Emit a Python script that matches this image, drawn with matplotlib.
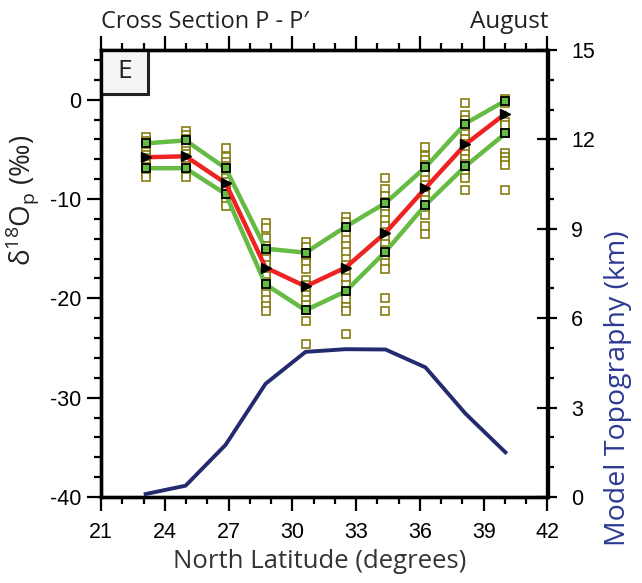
import matplotlib
matplotlib.use("Agg")
import matplotlib.pyplot as plt
from matplotlib.ticker import MultipleLocator
from matplotlib.patches import Rectangle

plt.rcParams["axes.unicode_minus"] = False

# ---------------- data ----------------
lat = [23.1, 24.98, 26.86, 28.74, 30.62, 32.5, 34.38, 36.26, 38.14, 40.02]

d18o_mean = [-5.8, -5.7, -8.4, -16.9, -18.8, -16.9, -13.4, -8.9, -4.5, -1.4]
d18o_upper = [-4.4, -4.1, -6.9, -15.0, -15.4, -12.8, -10.4, -6.8, -2.4, -0.1]
d18o_lower = [-6.9, -6.9, -9.5, -18.6, -21.2, -19.3, -15.3, -10.6, -6.7, -3.4]

topo_km = [0.1, 0.38, 1.75, 3.8, 4.87, 4.96, 4.95, 4.35, 2.8, 1.5]

members = [
    [-3.8, -4.2, -4.6, -5.0, -5.3, -5.6, -5.9, -6.2, -6.5, -6.8, -7.1, -7.4, -7.8],
    [-3.2, -3.6, -4.0, -4.4, -4.8, -5.2, -5.5, -5.9, -6.3, -6.7, -7.0, -7.4, -7.8],
    [-4.9, -5.8, -6.3, -6.7, -7.1, -7.5, -7.9, -8.3, -8.7, -9.1, -9.5, -9.9, -10.3, -10.7],
    [-12.4, -12.9, -13.9, -14.7, -15.4, -16.0, -16.6, -17.2, -17.8, -18.4, -19.0, -19.6, -20.2, -20.8, -21.3],
    [-14.3, -14.8, -15.4, -15.9, -16.4, -17.0, -18.2, -18.7, -19.2, -19.7, -20.2, -20.7, -21.2, -22.3, -24.6],
    [-11.8, -12.3, -12.9, -13.5, -14.1, -14.7, -15.3, -16.0, -16.6, -17.3, -18.0, -18.7, -19.4, -20.1, -20.9, -21.3, -23.6],
    [-7.9, -9.0, -9.7, -10.3, -10.9, -11.5, -12.1, -12.7, -13.3, -13.9, -14.5, -15.1, -15.7, -16.4, -17.0, -20.0, -21.3],
    [-4.8, -5.7, -6.1, -6.6, -7.1, -7.6, -8.1, -8.6, -9.1, -9.6, -10.1, -10.6, -11.1, -11.6, -12.7, -13.5],
    [-0.3, -1.5, -2.0, -2.5, -3.0, -3.5, -4.0, -4.5, -5.0, -5.5, -6.0, -6.5, -7.0, -7.5, -7.9, -9.1],
    [0.1, -0.1, -0.3, -2.2, -2.6, -3.4, -5.4, -5.8, -6.2, -6.6, -9.1],
]

x_ticks = [21, 24, 27, 30, 33, 36, 39, 42]
y_ticks = [0, -10, -20, -30, -40]
y2_ticks = [0, 3, 6, 9, 12, 15]

title_left = "Cross Section P - P\u2032"
title_right = "August"
panel_label = "E"

# ---------------- styling ----------------
W, H = 642, 583
fig = plt.figure(figsize=(W / 100, H / 100), dpi=100)
ax = fig.add_axes([101 / W, 1 - 497 / H, (547.5 - 101) / W, (497 - 50) / H])

tick_font = ["Liberation Sans Narrow", "Liberation Sans", "DejaVu Sans"]
lab_font = ["Open Sans", "DejaVu Sans"]
plt.rcParams["mathtext.fontset"] = "custom"
plt.rcParams["mathtext.rm"] = "Open Sans"

olive = "#857d10"
green = "#66bb44"
red = "#ee2222"
navy = "#232a6e"

for x, vals in zip(lat, members):
    ax.plot([x] * len(vals), vals, ls="none", marker="s", ms=5.2, mfc="white",
            mec=olive, mew=1.2, zorder=2)

ax.plot(lat, d18o_upper, color=green, lw=3.2, zorder=3, marker="s", ms=6,
        mfc=green, mec="black", mew=1.3)
ax.plot(lat, d18o_lower, color=green, lw=3.2, zorder=3, marker="s", ms=6,
        mfc=green, mec="black", mew=1.3)
ax.plot(lat, d18o_mean, color=red, lw=3.2, zorder=4)
ax.plot(lat, d18o_mean, ls="none", marker=">", ms=7.5, color="black", zorder=5)

ax.set_xlim(21, 42)
ax.set_ylim(-40, 5)
ax.set_xticks(x_ticks)
ax.set_yticks(y_ticks)
ax.xaxis.set_minor_locator(MultipleLocator(1))
ax.yaxis.set_minor_locator(MultipleLocator(2))
ax.tick_params(which="both", direction="out", width=1.6, top=True, labeltop=False,
               right=False)
ax.tick_params(which="major", length=10)
ax.tick_params(which="minor", length=5)
for lab in ax.get_xticklabels() + ax.get_yticklabels():
    lab.set_family(tick_font)
    lab.set_fontsize(15.5)
ax.tick_params(axis="x", pad=8)
ax.tick_params(axis="y", pad=4)
for s in ax.spines.values():
    s.set_linewidth(2.4)

ax2 = ax.twinx()
ax2.plot(lat, topo_km, color=navy, lw=2.8, zorder=3)
ax2.set_ylim(0, 15)
ax2.set_yticks(y2_ticks)
ax2.yaxis.set_minor_locator(MultipleLocator(1))
ax2.tick_params(which="major", direction="inout", length=14, width=1.6, pad=10)
ax2.tick_params(which="minor", direction="out", length=5, width=1.6)
for lab in ax2.get_yticklabels():
    lab.set_family(tick_font)
    lab.set_fontsize(15.5)
for s in ax2.spines.values():
    s.set_linewidth(2.4)

# panel label box
ax.add_patch(Rectangle((0, 1 - 44 / 447), 47 / 446.5, 44 / 447, transform=ax.transAxes,
                       facecolor="#f5f5f5", edgecolor="#222222", lw=2.2, zorder=6,
                       clip_on=False))
ax.text(23.5 / 446.5, 1 - 22 / 447, panel_label, transform=ax.transAxes, ha="center",
        va="center", fontsize=19, family=lab_font, color="#222222", zorder=7)

fig.text(101 / W, 1 - 22 / H, title_left, ha="left", va="center", fontsize=17,
         family=lab_font, color="#222222")
fig.text(549 / W, 1 - 22 / H, title_right, ha="right", va="center", fontsize=17.5,
         family=lab_font, color="#222222")

fig.text(320 / W, 1 - 562 / H, "North Latitude (degrees)", ha="center", va="center",
         fontsize=18.5, family=lab_font, color="#333333")
fig.text(22 / W, 1 - 200 / H, r"δ$^{\mathregular{18}}$O$_{\mathregular{p}}$ (‰)",
         ha="center", va="center", rotation=90, fontsize=20, family=lab_font,
         color="#222222")
fig.text(618 / W, 1 - 388 / H, "Model Topography (km)", ha="center", va="center",
         rotation=90, fontsize=20.5, family=lab_font, color="#2e3a92")

fig.savefig("out.png", dpi=100)
